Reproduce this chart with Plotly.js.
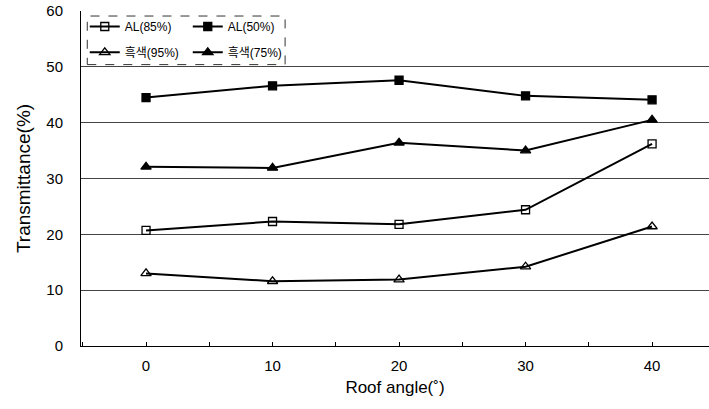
<!DOCTYPE html>
<html><head><meta charset="utf-8">
<script src="https://cdn.plot.ly/plotly-3.0.1.min.js"></script>
<style>html,body{margin:0;padding:0;background:#fff}#chart{width:709px;height:409px}</style>
</head><body><div id="chart"></div>
<script>
const angles = [0, 10, 20, 30, 40];
const al85 = [20.7, 22.3, 21.8, 24.4, 36.2];
const al50 = [44.5, 46.6, 47.6, 44.8, 44.1];
const black95 = [13.0, 11.6, 11.9, 14.2, 21.4];
const black75 = [32.1, 31.9, 36.4, 35.0, 40.5];
const names = ['AL(85%)', 'AL(50%)', '흑색(95%)', '흑색(75%)'];
const yTicks = [0, 10, 20, 30, 40, 50, 60];

const font = 'Liberation Sans, Arial, Noto Sans CJK KR, sans-serif';
function tr(y, name, symbol, size, leg) {
  return {x: angles, y: y, name: name, type: 'scatter', mode: 'lines+markers', legend: leg,
    line: {color: '#000', width: 2},
    marker: {symbol: symbol, size: size, color: '#000', line: {color: '#000', width: 1.3}}};
}
const data = [
  tr(al85, names[0], 'square-open', 8, 'legend'),
  tr(al50, names[1], 'square', 8, 'legend'),
  tr(black95, names[2], 'triangle-up-open', 9, 'legend2'),
  tr(black75, names[3], 'triangle-up', 9, 'legend2')
];
const legCommon = {orientation: 'h', xanchor: 'left', yanchor: 'top',
  bgcolor: 'rgba(0,0,0,0)', entrywidth: 58, entrywidthmode: 'pixels',
  itemwidth: 30, font: {size: 12, family: font}, tracegroupgap: 0};
const layout = {
  width: 709, height: 409,
  margin: {l: 81, r: 0, t: 11, b: 63},
  paper_bgcolor: '#fff', plot_bgcolor: '#fff',
  font: {family: font, color: '#000'},
  showlegend: true,
  legend: Object.assign({}, legCommon, {x: 0.006, y: 0.997}),
  legend2: Object.assign({}, legCommon, {x: 0.006, y: 0.92}),
  xaxis: {type: 'linear', range: [-5.14, 44.5], tickvals: angles, ticktext: angles.map(String),
    ticks: 'inside', ticklen: 4, tickcolor: '#000', showgrid: false, zeroline: false,
    showline: true, linecolor: '#000', linewidth: 1,
    minor: {dtick: 5, tick0: 0, ticks: 'inside', ticklen: 4, tickcolor: '#000', showgrid: false},
    tickfont: {size: 15}, ticklabelstandoff: 6,
    title: {text: 'Roof angle(˚)', font: {size: 17}, standoff: 8}},
  yaxis: {range: [0, 60], tickvals: yTicks, ticks: '', showgrid: true, gridcolor: '#444', gridwidth: 1,
    zeroline: false, showline: true, linecolor: '#000', linewidth: 1,
    tickfont: {size: 15}, ticklabelstandoff: 14,
    title: {text: 'Transmittance(%)', font: {size: 19}, standoff: 10}},
  shapes: [{type: 'rect', xref: 'paper', yref: 'paper', x0: 0.01, x1: 0.325, y0: 0.84, y1: 0.985,
    line: {color: '#333', width: 1, dash: 'dash'}, fillcolor: '#fff', layer: 'above'}]
};
Plotly.newPlot('chart', data, layout, {displayModeBar: false, staticPlot: true});
</script></body></html>
